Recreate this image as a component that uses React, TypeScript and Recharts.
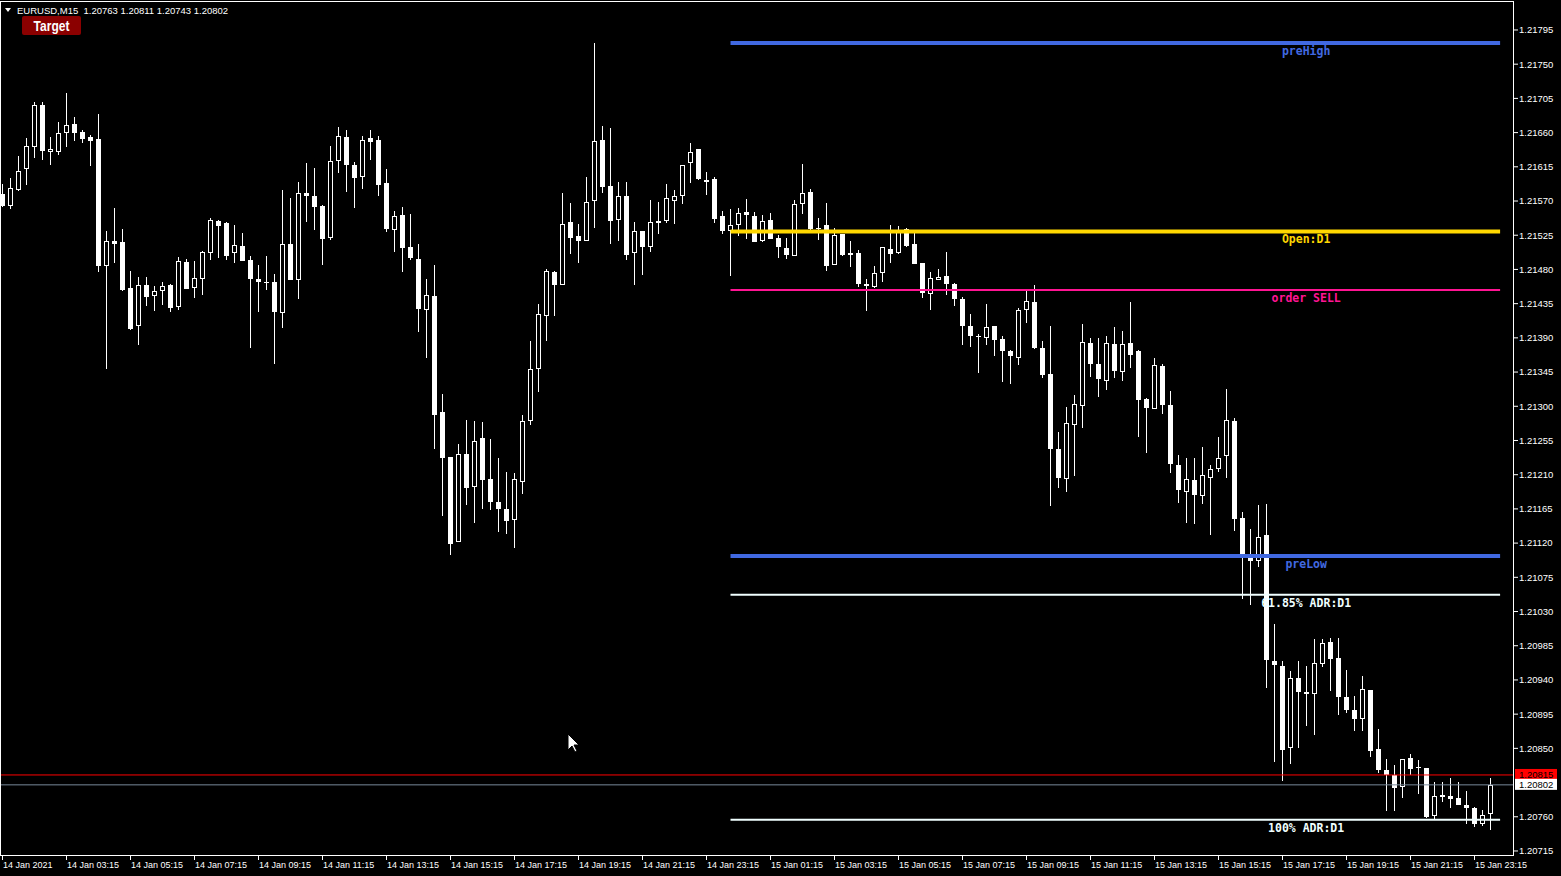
import React from 'react';
import { ComposedChart, Bar, XAxis, YAxis, ReferenceLine } from 'recharts';

// EURUSD M15, 14 Jan 01:15 .. 15 Jan 23:45
const opens = [
  1.21579, 1.21563, 1.21585, 1.21612, 1.21641, 1.21696, 1.21635, 1.21635, 1.21659, 1.21671,
  1.21661, 1.21654, 1.21652, 1.21484, 1.21517, 1.21516, 1.21456, 1.21405, 1.2146, 1.21445,
  1.21452, 1.21459, 1.2143, 1.2149, 1.21455, 1.21467, 1.21501, 1.21544, 1.21541, 1.21501,
  1.21511, 1.21492, 1.21467, 1.21463, 1.21463, 1.21423, 1.21513, 1.21466, 1.21581, 1.21577,
  1.21563, 1.21521, 1.21623, 1.21654, 1.21617, 1.21601, 1.21653, 1.2165, 1.21594, 1.21532,
  1.21551, 1.2151, 1.21494, 1.21426, 1.21445, 1.21292, 1.21233, 1.21122, 1.21237, 1.21194,
  1.21258, 1.21204, 1.21174, 1.21165, 1.21151, 1.21201, 1.21281, 1.21349, 1.21419, 1.21477,
  1.2146, 1.21542, 1.21524, 1.21517, 1.2157, 1.2165, 1.2159, 1.21545, 1.21577, 1.21501,
  1.2153, 1.21509, 1.21544, 1.21544, 1.2157, 1.21577, 1.2162, 1.21638, 1.21598, 1.21599,
  1.2155, 1.2153, 1.21538, 1.21555, 1.2155, 1.21517, 1.21545, 1.21521, 1.21508, 1.21498,
  1.21566, 1.21582, 1.21535, 1.21538, 1.21486, 1.21527, 1.21502, 1.21502, 1.21461, 1.21457,
  1.21475, 1.21507, 1.21501, 1.21533, 1.21513, 1.21488, 1.21448, 1.21466, 1.21471, 1.21461,
  1.21441, 1.21406, 1.21392, 1.2139, 1.21406, 1.21388, 1.21373, 1.21364, 1.21427, 1.21437,
  1.21377, 1.21342, 1.21244, 1.21204, 1.21275, 1.213, 1.21383, 1.21356, 1.21333, 1.21382,
  1.21345, 1.21383, 1.21373, 1.2131, 1.21296, 1.21353, 1.21302, 1.21223, 1.21187, 1.21203,
  1.21182, 1.21206, 1.21218, 1.21234, 1.21281, 1.21153, 1.21101, 1.21096, 1.21131, 1.20965,
  1.20958, 1.2085, 1.20943, 1.20924, 1.20921, 1.20961, 1.2099, 1.20969, 1.20918, 1.209,
  1.20888, 1.20927, 1.20849, 1.20822, 1.20815, 1.20799, 1.20837, 1.20825, 1.20824, 1.20761,
  1.20789, 1.20787, 1.20785, 1.20775, 1.20771, 1.20751, 1.20763,
];
const highs = [
  1.21592, 1.216, 1.21629, 1.21653, 1.217, 1.217, 1.21654, 1.21674, 1.21712, 1.21681,
  1.21663, 1.21657, 1.21684, 1.21531, 1.21561, 1.21533, 1.21478, 1.2147, 1.2147, 1.21458,
  1.21463, 1.21461, 1.21496, 1.21494, 1.21491, 1.21504, 1.21548, 1.21545, 1.21542, 1.21538,
  1.21528, 1.21498, 1.21486, 1.21498, 1.21474, 1.21585, 1.21574, 1.21595, 1.2162, 1.21613,
  1.21565, 1.21642, 1.21667, 1.21663, 1.21621, 1.21656, 1.21663, 1.21656, 1.21612, 1.21557,
  1.21562, 1.21553, 1.21513, 1.21467, 1.21486, 1.21316, 1.21233, 1.2125, 1.21282, 1.2128,
  1.21279, 1.21257, 1.21232, 1.21214, 1.21212, 1.21289, 1.21386, 1.21434, 1.2148, 1.21478,
  1.21581, 1.21568, 1.2154, 1.21602, 1.21778, 1.21669, 1.21666, 1.21595, 1.21595, 1.21542,
  1.2153, 1.21571, 1.21569, 1.21592, 1.21585, 1.21618, 1.21646, 1.21638, 1.21608, 1.21602,
  1.21557, 1.2156, 1.21561, 1.21573, 1.21555, 1.21552, 1.21554, 1.21525, 1.21521, 1.21571,
  1.21619, 1.21586, 1.21548, 1.21567, 1.21535, 1.21527, 1.21517, 1.21506, 1.21467, 1.21485,
  1.2151, 1.21538, 1.21537, 1.21535, 1.21528, 1.21488, 1.21477, 1.21481, 1.21503, 1.21462,
  1.21444, 1.21421, 1.21395, 1.21435, 1.21406, 1.21392, 1.21374, 1.21429, 1.21454, 1.2146,
  1.21386, 1.21406, 1.21266, 1.21299, 1.21315, 1.21408, 1.2139, 1.2139, 1.21392, 1.21404,
  1.21399, 1.21437, 1.21374, 1.21311, 1.21364, 1.21356, 1.2132, 1.21236, 1.21232, 1.21232,
  1.21246, 1.21223, 1.2126, 1.21323, 1.21285, 1.21161, 1.21139, 1.2117, 1.21171, 1.21014,
  1.20965, 1.20952, 1.20965, 1.20958, 1.20994, 1.20994, 1.20995, 1.20995, 1.20953, 1.20919,
  1.20945, 1.20927, 1.20875, 1.20836, 1.20828, 1.20836, 1.20843, 1.20835, 1.20824, 1.20806,
  1.20806, 1.20811, 1.20806, 1.20794, 1.20773, 1.20769, 1.20811,
];
const lows = [
  1.21562, 1.21559, 1.21583, 1.21591, 1.21627, 1.21624, 1.21617, 1.21631, 1.21641, 1.21649,
  1.21646, 1.21616, 1.21476, 1.21349, 1.21489, 1.21451, 1.214, 1.2138, 1.21432, 1.21425,
  1.21433, 1.21424, 1.21427, 1.21454, 1.21442, 1.21447, 1.21492, 1.21495, 1.21493, 1.21488,
  1.21491, 1.21376, 1.21424, 1.21453, 1.21355, 1.21403, 1.21466, 1.21441, 1.21542, 1.21532,
  1.21486, 1.21519, 1.21607, 1.21582, 1.21561, 1.21586, 1.21624, 1.21577, 1.21529, 1.21503,
  1.21476, 1.21492, 1.21398, 1.21363, 1.21244, 1.21156, 1.21105, 1.21122, 1.2117, 1.21146,
  1.21165, 1.21164, 1.21134, 1.21132, 1.21114, 1.21185, 1.21275, 1.21319, 1.21386, 1.21419,
  1.21459, 1.215, 1.21488, 1.21517, 1.21534, 1.2158, 1.21513, 1.21517, 1.21492, 1.21459,
  1.21473, 1.21503, 1.21526, 1.21541, 1.2154, 1.21566, 1.21594, 1.21597, 1.21578, 1.21541,
  1.21526, 1.21472, 1.21524, 1.2152, 1.21516, 1.21516, 1.2152, 1.21495, 1.21494, 1.21498,
  1.21553, 1.21529, 1.21519, 1.21478, 1.21486, 1.21498, 1.21483, 1.21457, 1.21425, 1.21456,
  1.21463, 1.21488, 1.215, 1.2151, 1.21487, 1.21442, 1.21427, 1.21466, 1.21446, 1.21432,
  1.21381, 1.21378, 1.21344, 1.21381, 1.21366, 1.21332, 1.21329, 1.21354, 1.21409, 1.21375,
  1.21337, 1.21169, 1.21192, 1.21187, 1.21208, 1.21271, 1.21339, 1.21312, 1.21321, 1.21337,
  1.21333, 1.2135, 1.2126, 1.21239, 1.21296, 1.2129, 1.21212, 1.21173, 1.21146, 1.21145,
  1.21172, 1.21131, 1.21214, 1.21206, 1.21136, 1.21047, 1.21038, 1.21088, 1.2093, 1.20832,
  1.20807, 1.2083, 1.2085, 1.2088, 1.20868, 1.20957, 1.20926, 1.20894, 1.20897, 1.20873,
  1.20873, 1.20839, 1.20818, 1.20767, 1.20768, 1.20785, 1.20815, 1.2079, 1.20759, 1.20757,
  1.2078, 1.20771, 1.20775, 1.20751, 1.20747, 1.20748, 1.20743,
];
const closes = [
  1.21563, 1.21587, 1.2161, 1.21643, 1.21696, 1.21636, 1.21638, 1.21659, 1.2167, 1.21659,
  1.21652, 1.21649, 1.21485, 1.21518, 1.21514, 1.21453, 1.21402, 1.2146, 1.21444, 1.21451,
  1.21458, 1.21429, 1.21491, 1.21454, 1.21469, 1.21503, 1.21545, 1.21537, 1.21498, 1.21512,
  1.21491, 1.21467, 1.21463, 1.21463, 1.21424, 1.21513, 1.21466, 1.2158, 1.21577, 1.21562,
  1.2152, 1.21623, 1.21655, 1.21617, 1.216, 1.2165, 1.21648, 1.21591, 1.21533, 1.2155,
  1.21508, 1.21495, 1.21428, 1.21446, 1.21289, 1.21232, 1.21119, 1.21237, 1.21192, 1.21254,
  1.21203, 1.21174, 1.21165, 1.21149, 1.21204, 1.2128, 1.21349, 1.21422, 1.21478, 1.2146,
  1.2154, 1.21521, 1.21517, 1.21569, 1.21649, 1.21589, 1.21544, 1.21576, 1.21499, 1.21531,
  1.21509, 1.21542, 1.21541, 1.21574, 1.21576, 1.21618, 1.21634, 1.21599, 1.21595, 1.21547,
  1.2153, 1.21538, 1.21554, 1.21551, 1.21516, 1.21544, 1.2152, 1.21509, 1.21499, 1.21566,
  1.2158, 1.21533, 1.21535, 1.21485, 1.21525, 1.21499, 1.21499, 1.21461, 1.21458, 1.21475,
  1.2151, 1.215, 1.21532, 1.21511, 1.21487, 1.21449, 1.21469, 1.2147, 1.21461, 1.21441,
  1.21406, 1.21392, 1.21392, 1.21404, 1.21387, 1.21373, 1.21366, 1.21427, 1.21438, 1.21377,
  1.21341, 1.21244, 1.21206, 1.21278, 1.21303, 1.21385, 1.21356, 1.21336, 1.21383, 1.21346,
  1.21382, 1.21367, 1.21308, 1.21298, 1.21354, 1.21302, 1.21224, 1.2119, 1.21204, 1.21183,
  1.2121, 1.21217, 1.21232, 1.21282, 1.21152, 1.21101, 1.21097, 1.21128, 1.20966, 1.20959,
  1.20848, 1.20943, 1.20924, 1.20921, 1.20962, 1.20989, 1.20968, 1.20917, 1.20901, 1.20889,
  1.20928, 1.20847, 1.20822, 1.20815, 1.20798, 1.20836, 1.20823, 1.20825, 1.2076, 1.20787,
  1.20786, 1.20784, 1.20776, 1.20771, 1.20751, 1.20762, 1.20802,
];

// one label every 8 bars (2 hours)
const timeLabels = [
  '14 Jan 2021', '14 Jan 03:15', '14 Jan 05:15', '14 Jan 07:15', '14 Jan 09:15', '14 Jan 11:15',
  '14 Jan 13:15', '14 Jan 15:15', '14 Jan 17:15', '14 Jan 19:15', '14 Jan 21:15', '14 Jan 23:15',
  '15 Jan 01:15', '15 Jan 03:15', '15 Jan 05:15', '15 Jan 07:15', '15 Jan 09:15', '15 Jan 11:15',
  '15 Jan 13:15', '15 Jan 15:15', '15 Jan 17:15', '15 Jan 19:15', '15 Jan 21:15', '15 Jan 23:15',
];

const priceTicks = [
  1.20715, 1.2076, 1.2085, 1.20895, 1.2094, 1.20985, 1.2103, 1.21075, 1.2112, 1.21165,
  1.2121, 1.21255, 1.213, 1.21345, 1.2139, 1.21435, 1.2148, 1.21525, 1.2157, 1.21615,
  1.2166, 1.21705, 1.2175, 1.21795,
];

// indicator levels drawn from the start of 15 Jan
const levelNames = ['preHigh', 'Open:D1', 'order SELL', 'preLow', '61.85% ADR:D1', '100% ADR:D1'];
const levelPrices = [1.21778, 1.2153, 1.21453, 1.21103, 1.21052, 1.20756];
const levelFrom = 91;
const levelTo = 187.2;

const askPrice = 1.20815;
const bidPrice = 1.20802;

const levelStyles = [
  { color: '#4169E1', width: 4 },
  { color: '#FFD700', width: 4 },
  { color: '#FF1493', width: 2 },
  { color: '#4169E1', width: 4 },
  { color: '#F0FFFF', width: 2 },
  { color: '#F0FFFF', width: 2 },
];

const W = 1561;
const H = 876;
const AXIS_FONT = '"Liberation Sans", Arial, sans-serif';

const candles = opens.map((o, i) => ({
  i,
  open: o,
  high: highs[i],
  low: lows[i],
  close: closes[i],
}));

function Candle(props: any) {
  const { x, y, width, height, payload } = props;
  if (!payload) return null;
  const { open, high, low, close } = payload;
  const k = high > low ? height / (high - low) : 0;
  const py = (p: number) => y + (high - p) * k;
  const cx = Math.floor(x + width / 2) + 0.5;
  const top = Math.round(py(Math.max(open, close)));
  const bot = Math.round(py(Math.min(open, close)));
  const wickTop = Math.round(py(high));
  const wickBot = Math.round(py(low));
  const bull = close > open;
  let body;
  if (bot - top < 1) {
    body = <line x1={cx - 2.5} x2={cx + 2.5} y1={top + 0.5} y2={top + 0.5} stroke="#fff" />;
  } else if (bull && bot - top > 1) {
    body = (
      <rect x={cx - 2} y={top + 0.5} width={4} height={bot - top - 1} fill="#000" stroke="#fff" strokeWidth={1} />
    );
  } else {
    body = <rect x={cx - 2.5} y={top} width={5} height={bot - top} fill="#fff" />;
  }
  return (
    <g>
      <line x1={cx} x2={cx} y1={wickTop} y2={wickBot} stroke="#fff" strokeWidth={1} />
      {body}
    </g>
  );
}

const levelLabel = (text: string, color: string) => (props: any) => {
  const vb = props.viewBox || {};
  return (
    <text
      x={vb.x + vb.width * 0.748}
      y={vb.y + 12}
      fill={color}
      fontFamily='"DejaVu Sans Mono", monospace'
      fontWeight="bold"
      fontSize={11.5}
      textAnchor="middle"
    >
      {text}
    </text>
  );
};

const priceTag = (value: number, bg: string) => (props: any) => {
  const vb = props.viewBox || {};
  const left = vb.x + vb.width + 1;
  return (
    <g>
      <rect x={left} y={vb.y - 6} width={42} height={11} fill={bg} />
      <text x={left + 4} y={vb.y + 3.5} fill="#000" fontFamily={AXIS_FONT} fontSize={9.5}>
        {value.toFixed(5)}
      </text>
    </g>
  );
};

function TimeTick(props: any) {
  const { x, y, payload } = props;
  return (
    <text x={x + 0.5} y={y} dy="0.71em" fill="#fff" fontFamily={AXIS_FONT} fontSize={9} textAnchor="start">
      {timeLabels[Math.round(payload.value / 8)]}
    </text>
  );
}

export default function App() {
  const last = candles[candles.length - 1];
  const header = `EURUSD,M15  ${last.open.toFixed(5)} ${last.high.toFixed(5)} ${last.low.toFixed(5)} ${last.close.toFixed(5)}`;

  return (
    <div style={{ position: 'fixed', left: 0, top: 0, width: W, height: H, background: '#000', overflow: 'hidden' }}>
      <ComposedChart
        width={W}
        height={H}
        data={candles}
        margin={{ top: 2, right: 0, bottom: 0, left: 1 }}
        style={{ background: '#000' }}
      >
        <XAxis
          dataKey="i"
          type="number"
          domain={[-0.1875, 188.9375]}
          allowDataOverflow
          ticks={timeLabels.map((_, k) => k * 8)}
          interval={0}
          height={20}
          axisLine={false}
          tickLine={{ stroke: '#fff' }}
          tickSize={4}
          tickMargin={2}
          tick={<TimeTick />}
        />
        <YAxis
          orientation="right"
          type="number"
          domain={[1.207084, 1.218318]}
          allowDataOverflow
          ticks={priceTicks}
          interval={0}
          width={47}
          axisLine={false}
          tickLine={{ stroke: '#fff' }}
          tickSize={4}
          tickMargin={1}
          tickFormatter={(v: number) => v.toFixed(5)}
          tick={{ fill: '#fff', fontSize: 9.5, fontFamily: AXIS_FONT }}
        />
        {levelNames.map((name, k) => (
          <ReferenceLine
            key={name}
            segment={[
              { x: levelFrom, y: levelPrices[k] },
              { x: levelTo, y: levelPrices[k] },
            ]}
            stroke={levelStyles[k].color}
            strokeWidth={levelStyles[k].width}
            label={levelLabel(name, levelStyles[k].color)}
          />
        ))}
        <ReferenceLine y={askPrice} stroke="#FF0000" strokeWidth={1} label={priceTag(askPrice, '#FF0000')} />
        <ReferenceLine y={bidPrice} stroke="#778899" strokeWidth={1} label={priceTag(bidPrice, '#FFFFFF')} />
        <Bar
          dataKey={(d: any) => [d.low, d.high]}
          barSize={5}
          shape={(p: any) => <Candle {...p} />}
          isAnimationActive={false}
        />
      </ComposedChart>

      <svg width={W} height={H} style={{ position: 'absolute', left: 0, top: 0, pointerEvents: 'none' }}>
        <rect x={0.5} y={1.5} width={1513} height={854} fill="none" stroke="#fff" strokeWidth={1} />
        <polygon points="5,8 11,8 8,12" fill="#fff" />
        <text x={17} y={14} fill="#fff" fontFamily={AXIS_FONT} fontSize={9.5} style={{ whiteSpace: 'pre' }}>
          {header}
        </text>
        <rect x={22} y={16} width={59} height={19} rx={2} fill="#8B0000" />
        <text
          x={51.5}
          y={31}
          fill="#fff"
          fontFamily={AXIS_FONT}
          fontWeight="bold"
          fontSize={15}
          textAnchor="middle"
          transform="translate(51.5 0) scale(0.8 1) translate(-51.5 0)"
        >
          Target
        </text>
        <polygon
          points="568,734 568,750 572,746 575,752 577,751 574,745 579,745"
          fill="#fff"
          stroke="#000"
          strokeWidth={1}
        />
      </svg>
    </div>
  );
}
